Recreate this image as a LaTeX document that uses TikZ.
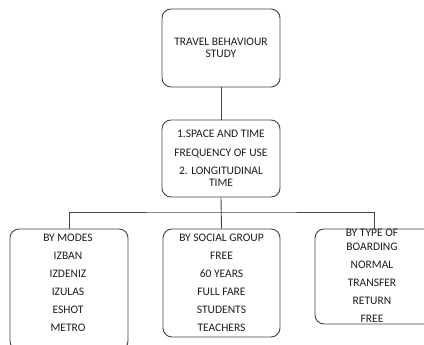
\documentclass[tikz,border=0pt]{standalone}
\usepackage{fontspec}
\setmainfont{Carlito}
\definecolor{linegray}{HTML}{454545}
\definecolor{txtgray}{HTML}{1E1E1E}
\begin{document}
\begin{tikzpicture}[x=1pt,y=-1pt,
  box/.style={draw=linegray, line width=0.9pt, rounded corners=9pt, inner sep=0pt, align=center, text=txtgray,
    font=\fontsize{11.5}{12.5}\selectfont},
  txt/.style={inner sep=0pt, align=center, text=txtgray, font=\fontsize{11.5}{18}\selectfont},
  conn/.style={draw=linegray, line width=0.9pt}]
\clip (0,0) rectangle (424,345);
\fill[white] (0,0) rectangle (424,345);
\node[box, minimum width=118pt, minimum height=78pt] (top) at (221,48) {TRAVEL BEHAVIOUR\\STUDY};
\node[box, minimum width=118pt, minimum height=77pt] (mid) at (221,158.5)
  {1.SPACE AND TIME\\[6.5pt]FREQUENCY OF USE\\[5.5pt]2. LONGITUDINAL\\TIME};
\node[box, minimum width=118pt, minimum height=121pt] (modes) at (69,289.5) {};
\node[txt] (modestxt) at (68,283) {BY MODES\\IZBAN\\IZDENIZ\\IZULAS\\ESHOT\\METRO};
\node[box, minimum width=117pt, minimum height=108pt, font=\fontsize{11.5}{18}\selectfont] (social) at (221.5,283)
  {BY SOCIAL GROUP\\FREE\\60 YEARS\\FULL FARE\\STUDENTS\\TEACHERS};
\node[box, minimum width=118pt, minimum height=95pt] (board) at (374,276.5) {};
\node[txt] (boardtxt) at (372,276) {BY TYPE OF\\[-4.5pt]BOARDING\\NORMAL\\TRANSFER\\RETURN\\FREE};
\coordinate (bar) at (221,212);
\draw[conn] (top.south) -- (mid.north);
\draw[conn] (mid.south) -- (social.north);
\draw[conn] (modes.north) |- (bar) -| (board.north);
\end{tikzpicture}
\end{document}
